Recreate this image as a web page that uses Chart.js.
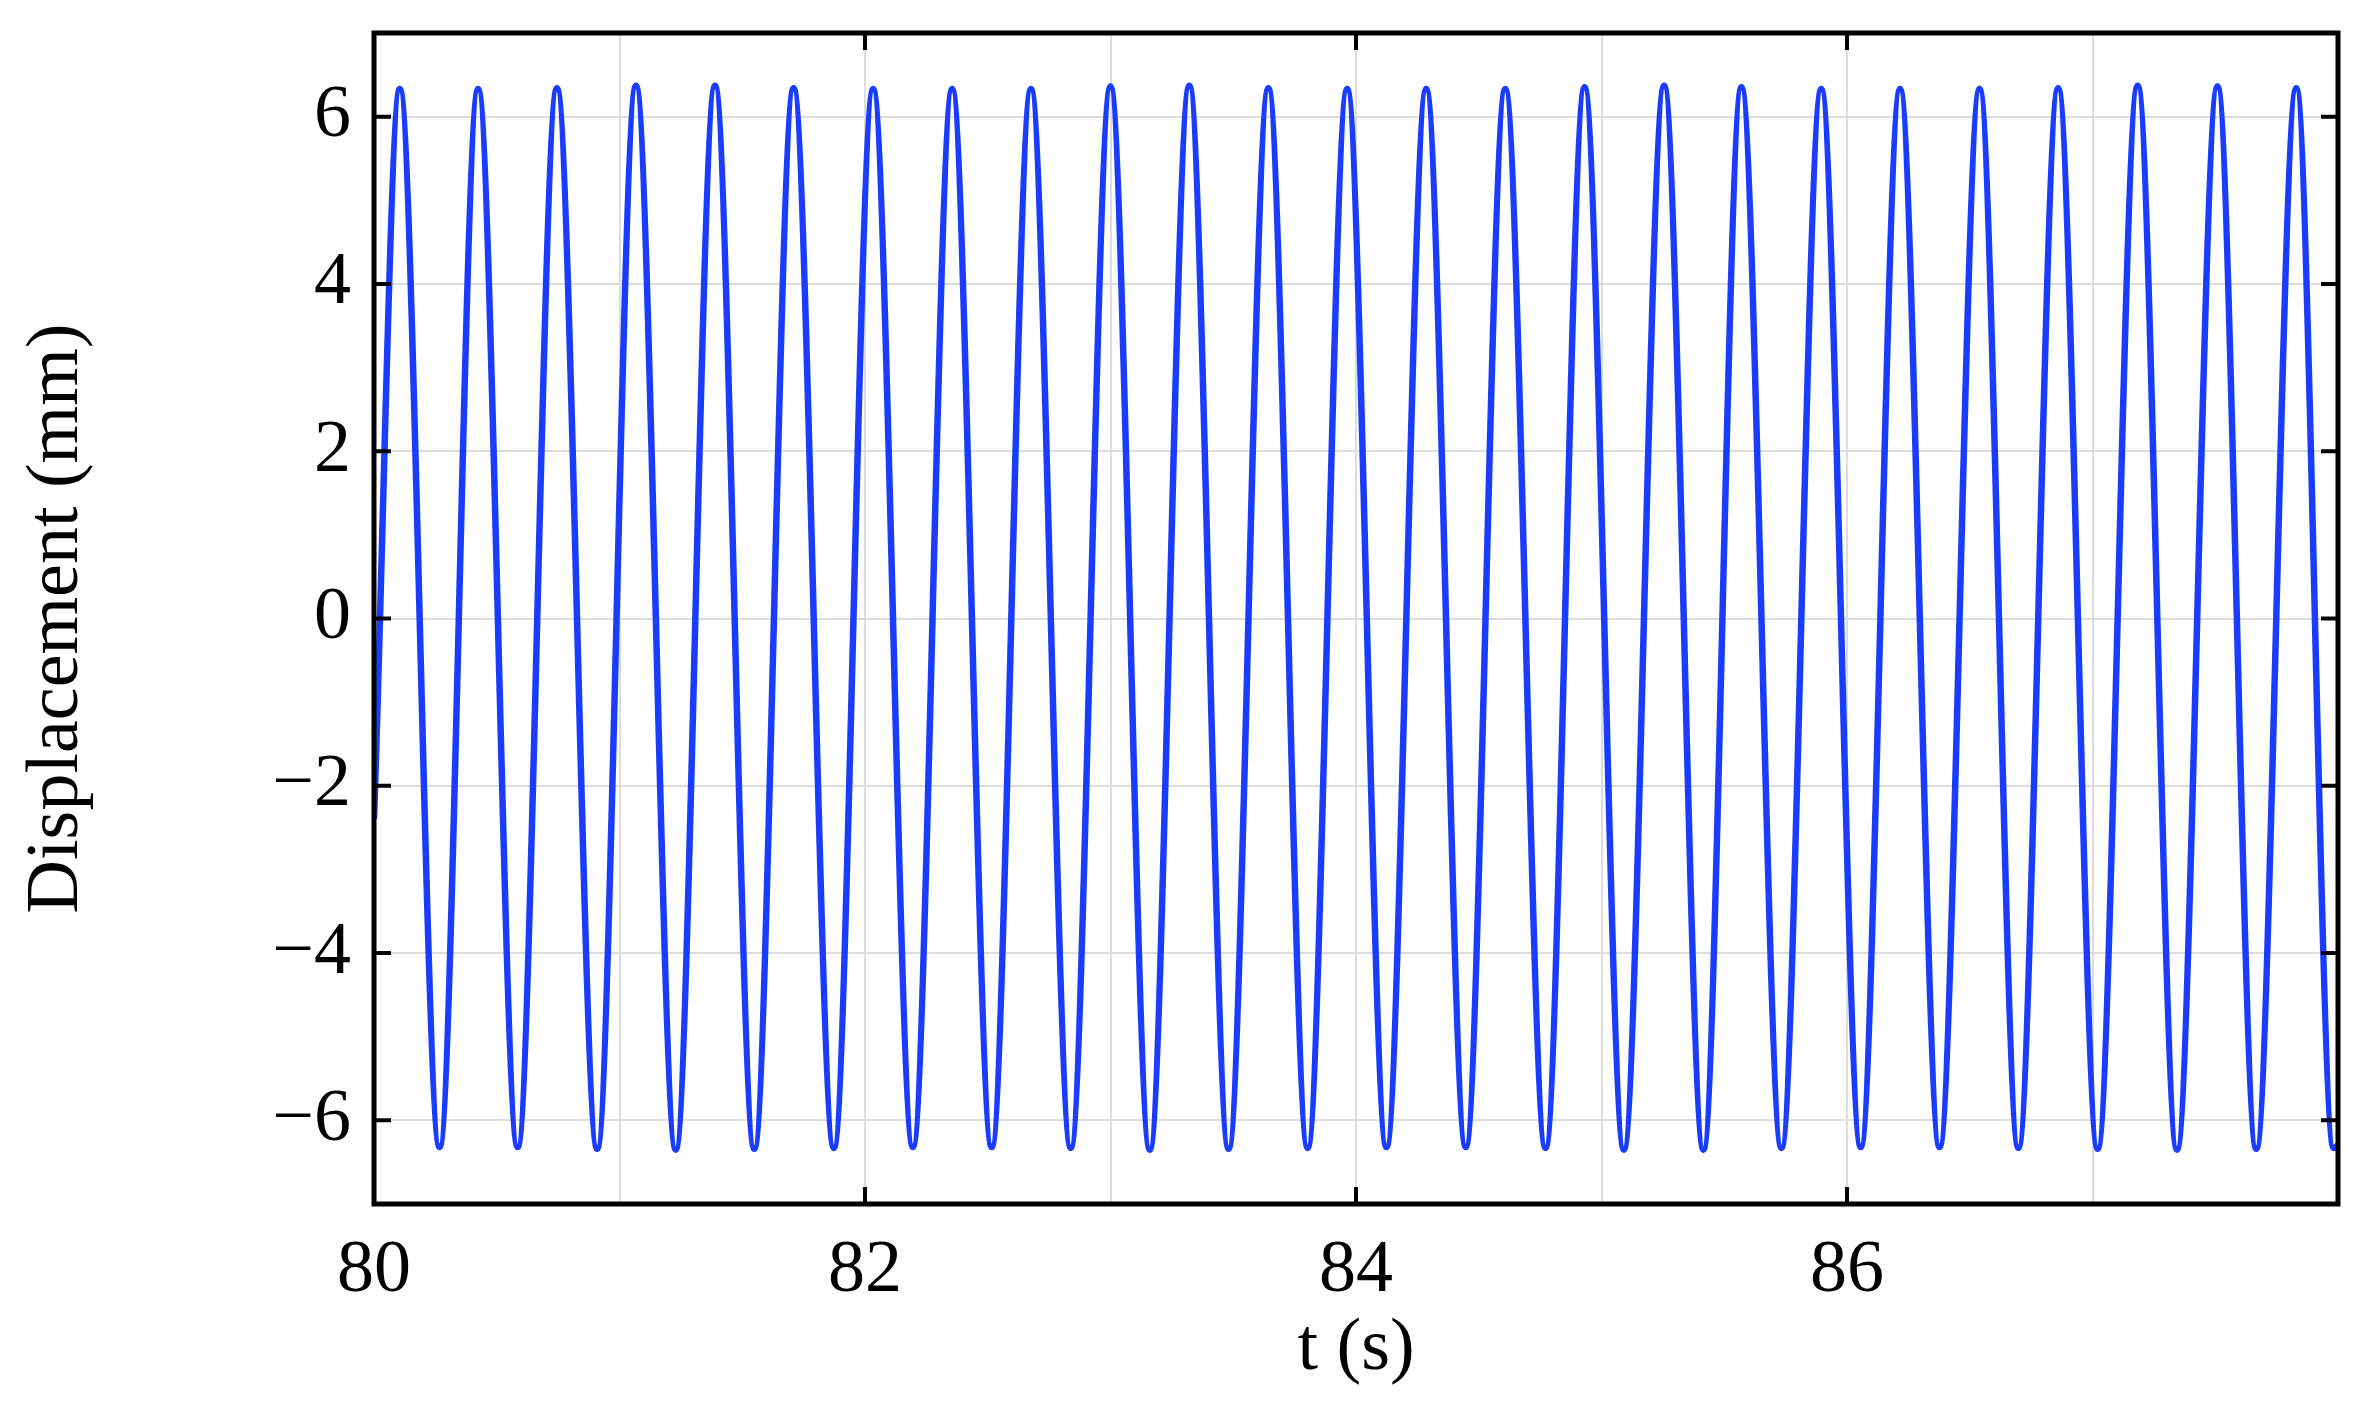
<!DOCTYPE html>
<html>
<head>
<meta charset="utf-8">
<script src="https://cdn.jsdelivr.net/npm/chart.js@4.4.1/dist/chart.umd.min.js"></script>
<style>
  html, body { margin: 0; padding: 0; background: #fff; }
  #wrap { width: 2374px; height: 1404px; }
</style>
</head>
<body>
<div id="wrap"><canvas id="displacementChart" width="2374" height="1404"></canvas></div>
<script>
// extremes of the displacement signal
const peakTimes = [80.105, 80.424, 80.745, 81.067, 81.389, 81.709, 82.033, 82.355, 82.676,
  83.000, 83.321, 83.643, 83.964, 84.286, 84.608, 84.931, 85.255,
  85.570, 85.895, 86.216, 86.540, 86.860, 87.184, 87.509, 87.830];
const peakValues = [6.33, 6.33, 6.34, 6.37, 6.37, 6.34, 6.33, 6.33, 6.33,
  6.36, 6.37, 6.34, 6.33, 6.33, 6.33, 6.35, 6.37,
  6.35, 6.33, 6.33, 6.33, 6.34, 6.37, 6.36, 6.34];
const troughTimes = [80.267, 80.585, 80.909, 81.229, 81.549, 81.873, 82.195, 82.516,
  82.838, 83.160, 83.481, 83.803, 84.124, 84.447, 84.772, 85.091, 85.415,
  85.733, 86.056, 86.377, 86.698, 87.021, 87.344, 87.667, 87.982];
const troughValues = [-6.32, -6.32, -6.34, -6.35, -6.34, -6.33, -6.32, -6.32,
  -6.33, -6.35, -6.34, -6.33, -6.32, -6.32, -6.33, -6.35, -6.35,
  -6.33, -6.32, -6.32, -6.33, -6.34, -6.35, -6.34, -6.33];
const startPoint = [80.0, -2.4];
const endPoint = [88.0, -6.30];

const xGridTicks = [80, 81, 82, 83, 84, 85, 86, 87, 88];
const xTickLabels = [80, 82, 84, 86];
const yTickLabels = [-6, -4, -2, 0, 2, 4, 6];

const points = [{ x: startPoint[0], y: startPoint[1] }];
peakTimes.forEach((t, i) => {
  points.push({ x: t, y: peakValues[i] });
  points.push({ x: troughTimes[i], y: troughValues[i] });
});
points.push({ x: endPoint[0], y: endPoint[1] });
points.sort((a, b) => a.x - b.x);

const serif = "'Liberation Serif', 'Times New Roman', serif";
const tickLen = 17;

// black box round the plot with inward tick marks
const framePlugin = {
  id: 'frame',
  afterDraw(chart) {
    const { ctx, chartArea: a, scales: { x, y } } = chart;
    ctx.save();
    ctx.strokeStyle = '#000';
    ctx.lineWidth = 5;
    ctx.strokeRect(a.left, a.top, a.right - a.left, a.bottom - a.top);
    ctx.lineWidth = 4;
    ctx.beginPath();
    xTickLabels.forEach(v => {
      const px = x.getPixelForValue(v);
      ctx.moveTo(px, a.bottom); ctx.lineTo(px, a.bottom - tickLen);
      ctx.moveTo(px, a.top); ctx.lineTo(px, a.top + tickLen);
    });
    yTickLabels.forEach(v => {
      const py = y.getPixelForValue(v);
      ctx.moveTo(a.left, py); ctx.lineTo(a.left + tickLen, py);
      ctx.moveTo(a.right, py); ctx.lineTo(a.right - tickLen, py);
    });
    ctx.stroke();
    ctx.restore();
  }
};

new Chart(document.getElementById('displacementChart'), {
  type: 'line',
  data: {
    datasets: [{
      data: points,
      borderColor: '#1a3cff',
      borderWidth: 6.5,
      pointRadius: 0,
      cubicInterpolationMode: 'monotone',
      fill: false
    }]
  },
  options: {
    responsive: false,
    animation: false,
    devicePixelRatio: 1,
    layout: { padding: { top: 33, right: 36, left: 0, bottom: 0 } },
    plugins: { legend: { display: false }, tooltip: { enabled: false } },
    scales: {
      x: {
        type: 'linear',
        min: 80,
        max: 88,
        afterBuildTicks: scale => { scale.ticks = xGridTicks.map(v => ({ value: v })); },
        afterFit: scale => {
          scale.height = 200;
          scale.paddingLeft = 0;
          scale.paddingRight = 0;
        },
        border: { display: false },
        grid: { color: '#dddddd', lineWidth: 2, drawTicks: false },
        ticks: {
          autoSkip: false,
          maxRotation: 0,
          padding: 23,
          color: '#000',
          font: { family: serif, size: 74 },
          callback: v => xTickLabels.includes(v) ? String(v) : ''
        },
        title: {
          display: true,
          text: 't (s)',
          color: '#000',
          font: { family: serif, size: 74 },
          padding: { top: 0, bottom: 10 }
        }
      },
      y: {
        type: 'linear',
        min: -7,
        max: 7,
        afterBuildTicks: scale => { scale.ticks = yTickLabels.map(v => ({ value: v })); },
        afterFit: scale => {
          scale.width = 374;
          scale.paddingTop = 0;
          scale.paddingBottom = 0;
        },
        border: { display: false },
        grid: { color: '#dddddd', lineWidth: 2, drawTicks: false },
        ticks: {
          padding: 23,
          color: '#000',
          font: { family: serif, size: 74 },
          callback: v => v < 0 ? '\u2212' + Math.abs(v) : String(v)
        },
        title: {
          display: true,
          text: 'Displacement (mm)',
          color: '#000',
          font: { family: serif, size: 74 },
          padding: { top: 13, bottom: 0 }
        }
      }
    }
  },
  plugins: [framePlugin]
});
</script>
</body>
</html>
